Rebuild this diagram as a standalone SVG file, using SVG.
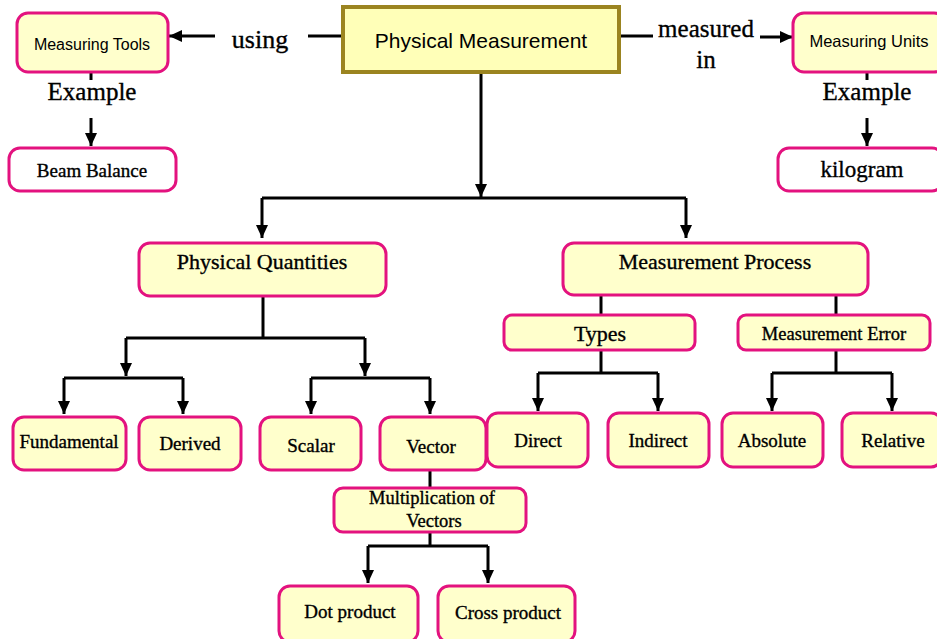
<svg xmlns="http://www.w3.org/2000/svg" width="937" height="639" viewBox="0 0 937 639">
<defs>
<style>
.n{fill:#ffffcc;stroke:#e3127f;stroke-width:3}
.w{fill:#ffffff;stroke:#e3127f;stroke-width:3}
.s{font-family:'Liberation Serif','DejaVu Serif',serif;fill:#000;text-anchor:middle;stroke:#000;stroke-width:0.35}
.ss{font-family:'Liberation Sans',sans-serif;fill:#000;text-anchor:middle}
.c{fill:none;stroke:#000;stroke-width:3}
.a{fill:none;stroke:#000;stroke-width:3;marker-end:url(#ah)}
</style>
<marker id="ah" markerUnits="userSpaceOnUse" markerWidth="14" markerHeight="12" refX="13" refY="6" orient="auto">
<path d="M0,0 L13,6 L0,12 z" fill="#000"/>
</marker>
</defs>
<rect width="937" height="639" fill="#fff"/>

<g id="connectors">
<line class="c" x1="308" y1="36" x2="342" y2="36"/>
<line class="a" x1="215" y1="36" x2="169" y2="36"/>
<line class="c" x1="620" y1="36" x2="653" y2="36"/>
<line class="a" x1="760" y1="37" x2="793" y2="37"/>
<line class="c" x1="91" y1="72" x2="91" y2="80"/>
<line class="a" x1="91" y1="118" x2="91" y2="146"/>
<line class="c" x1="867" y1="72" x2="867" y2="80"/>
<line class="a" x1="867" y1="118" x2="867" y2="146"/>
<line class="a" x1="481" y1="73" x2="481" y2="197"/>
<polyline class="c" points="262,198 686,198"/>
<line class="a" x1="262" y1="198" x2="262" y2="238"/>
<line class="a" x1="686" y1="198" x2="686" y2="238"/>
<line class="c" x1="263" y1="296" x2="263" y2="338"/>
<polyline class="c" points="126,338 365,338"/>
<line class="a" x1="126" y1="338" x2="126" y2="376"/>
<line class="a" x1="365" y1="338" x2="365" y2="376"/>
<polyline class="c" points="64,378 183,378"/>
<line class="a" x1="64" y1="378" x2="64" y2="414"/>
<line class="a" x1="183" y1="378" x2="183" y2="414"/>
<polyline class="c" points="311,378 430,378"/>
<line class="a" x1="311" y1="378" x2="311" y2="414"/>
<line class="a" x1="430" y1="378" x2="430" y2="414"/>
<line class="c" x1="601" y1="295" x2="601" y2="315"/>
<line class="c" x1="836" y1="295" x2="836" y2="315"/>
<line class="c" x1="601" y1="350" x2="601" y2="373"/>
<polyline class="c" points="538,373 658,373"/>
<line class="a" x1="538" y1="373" x2="538" y2="411"/>
<line class="a" x1="658" y1="373" x2="658" y2="411"/>
<line class="c" x1="836" y1="350" x2="836" y2="373"/>
<polyline class="c" points="772,373 892,373"/>
<line class="a" x1="772" y1="373" x2="772" y2="411"/>
<line class="a" x1="892" y1="373" x2="892" y2="411"/>
<line class="c" x1="430" y1="470" x2="430" y2="488"/>
<line class="c" x1="430" y1="532" x2="430" y2="546"/>
<polyline class="c" points="368,546 488,546"/>
<line class="a" x1="368" y1="546" x2="368" y2="583"/>
<line class="a" x1="488" y1="546" x2="488" y2="583"/>
<text class="s" x="260" y="48" font-size="26">using</text>
<text class="s" x="706" y="37" font-size="25">measured</text>
<text class="s" x="706" y="68" font-size="25">in</text>
<text class="s" x="92" y="100" font-size="25">Example</text>
<text class="s" x="867" y="100" font-size="25">Example</text>
</g>

<g id="physical-measurement">
<rect x="343" y="7" width="276" height="65" fill="#ffffb8" stroke="#9b8420" stroke-width="4"/>
<text class="ss" x="481" y="48" font-size="21">Physical Measurement</text>
</g>
<g id="measuring-tools">
<rect class="n" x="17" y="13" width="151" height="59" rx="11"/>
<text class="ss" x="92" y="50" font-size="16">Measuring Tools</text>
</g>
<g id="measuring-units">
<rect class="n" x="793" y="13" width="152" height="59" rx="11"/>
<text class="ss" x="869" y="47" font-size="16.5">Measuring Units</text>
</g>
<g id="beam-balance">
<rect class="w" x="9" y="148" width="167" height="43" rx="11"/>
<text class="s" x="92" y="177" font-size="19">Beam Balance</text>
</g>
<g id="kilogram">
<rect class="w" x="778" y="148" width="165" height="43" rx="11"/>
<text class="s" x="862" y="177" font-size="23">kilogram</text>
</g>
<g id="physical-quantities">
<rect class="n" x="139" y="243" width="247" height="53" rx="11"/>
<text class="s" x="262" y="269" font-size="22">Physical Quantities</text>
</g>
<g id="measurement-process">
<rect class="n" x="563" y="243" width="305" height="52" rx="11"/>
<text class="s" x="715" y="269" font-size="22">Measurement Process</text>
</g>
<g id="types">
<rect class="n" x="504" y="315" width="191" height="35" rx="8"/>
<text class="s" x="600" y="341" font-size="22">Types</text>
</g>
<g id="measurement-error">
<rect class="n" x="738" y="315" width="192" height="35" rx="8"/>
<text class="s" x="834" y="340" font-size="18.5">Measurement Error</text>
</g>
<g id="fundamental">
<rect class="n" x="13" y="417" width="113" height="53" rx="11"/>
<text class="s" x="69" y="448" font-size="19">Fundamental</text>
</g>
<g id="derived">
<rect class="n" x="139" y="417" width="102" height="53" rx="11"/>
<text class="s" x="190" y="450" font-size="19">Derived</text>
</g>
<g id="scalar">
<rect class="n" x="260" y="417" width="101" height="53" rx="11"/>
<text class="s" x="311" y="452" font-size="19">Scalar</text>
</g>
<g id="vector">
<rect class="n" x="380" y="417" width="106" height="53" rx="11"/>
<text class="s" x="431" y="453" font-size="19">Vector</text>
</g>
<g id="direct">
<rect class="n" x="487" y="413" width="101" height="54" rx="11"/>
<text class="s" x="538" y="447" font-size="19">Direct</text>
</g>
<g id="indirect">
<rect class="n" x="608" y="413" width="101" height="54" rx="11"/>
<text class="s" x="658" y="447" font-size="19">Indirect</text>
</g>
<g id="absolute">
<rect class="n" x="722" y="413" width="101" height="54" rx="11"/>
<text class="s" x="772" y="447" font-size="19">Absolute</text>
</g>
<g id="relative">
<rect class="n" x="842" y="413" width="100" height="54" rx="11"/>
<text class="s" x="893" y="447" font-size="19">Relative</text>
</g>
<g id="multiplication-of-vectors">
<rect class="n" x="334" y="488" width="192" height="44" rx="9"/>
<text class="s" x="432" y="504" font-size="18.5">Multiplication of</text>
<text class="s" x="434" y="527" font-size="18.5">Vectors</text>
</g>
<g id="dot-product">
<rect class="n" x="279" y="586" width="139" height="56" rx="11"/>
<text class="s" x="350" y="618" font-size="19">Dot product</text>
</g>
<g id="cross-product">
<rect class="n" x="438" y="586" width="137" height="56" rx="11"/>
<text class="s" x="508" y="619" font-size="19">Cross product</text>
</g>
</svg>
